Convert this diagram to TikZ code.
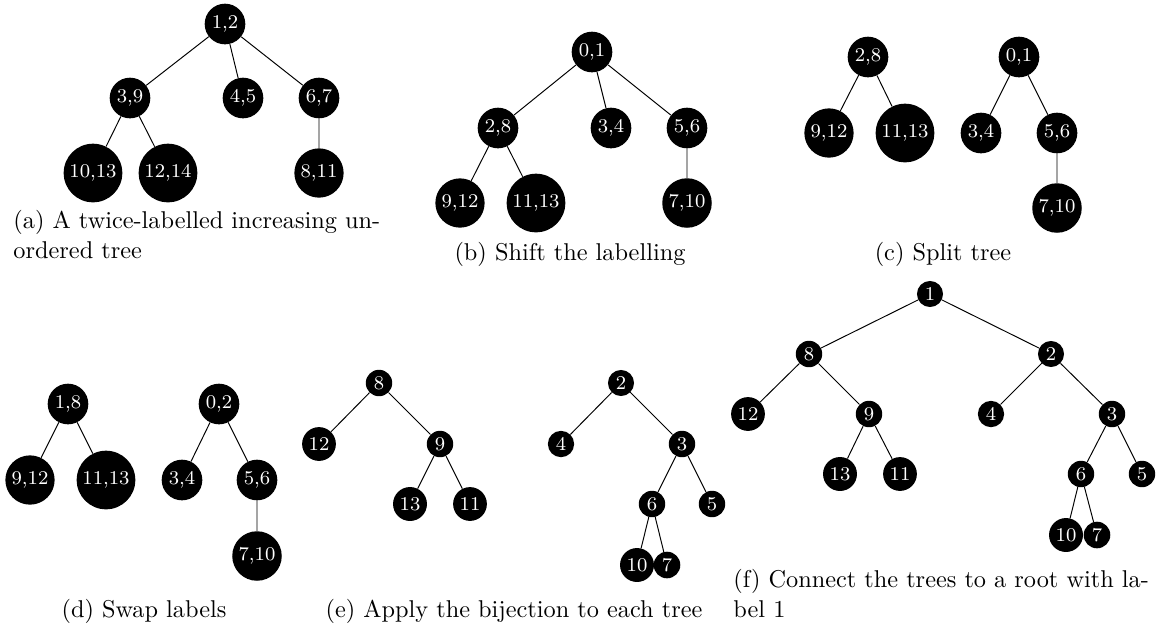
\documentclass[tikz,border=0pt]{standalone}
\begin{document}
\begin{tikzpicture}[x=0.4115pt, y=-0.4115pt, vertex/.style={circle, fill=black, text=white, inner sep=1.4pt, font=\footnotesize}, caption/.style={inner sep=0pt, align=left}, line join=round, line cap=round]
      \useasboundingbox (0,0) rectangle (1156,626);

      % (a)
      \node[vertex] (a1) at (225,24) {1,2};
      \node[vertex] (a2) at (130,98) {3,9};
      \node[vertex] (a3) at (243,98) {4,5};
      \node[vertex] (a4) at (319,98) {6,7};
      \node[vertex] (a5) at (93,173) {10,13};
      \node[vertex] (a6) at (168,173) {12,14};
      \node[vertex] (a7) at (319,173) {8,11};
      \draw (a1) -- (a2) (a1) -- (a3) (a1) -- (a4);
      \draw (a2) -- (a5) (a2) -- (a6) (a4) -- (a7);
      \node[caption, anchor=base west] (capa) at (13,258) {(a) A twice-labelled increasing un-\\ordered tree};

      % (b)
      \node[vertex] (b1) at (592,52) {0,1};
      \node[vertex] (b2) at (498,128) {2,8};
      \node[vertex] (b3) at (611,128) {3,4};
      \node[vertex] (b4) at (687,128) {5,6};
      \node[vertex] (b5) at (460,203) {9,12};
      \node[vertex] (b6) at (536,203) {11,13};
      \node[vertex] (b7) at (687,203) {7,10};
      \draw (b1) -- (b2) (b1) -- (b3) (b1) -- (b4);
      \draw (b2) -- (b5) (b2) -- (b6) (b4) -- (b7);
      \node[caption, anchor=base] (capb) at (570,260) {(b) Shift the labelling};

      % (c)
      \node[vertex] (c1) at (868,57) {2,8};
      \node[vertex] (c2) at (829,133) {9,12};
      \node[vertex] (c3) at (905,133) {11,13};
      \node[vertex] (c4) at (1019,57) {0,1};
      \node[vertex] (c5) at (981,133) {3,4};
      \node[vertex] (c6) at (1057,133) {5,6};
      \node[vertex] (c7) at (1057,208) {7,10};
      \draw (c1) -- (c2) (c1) -- (c3);
      \draw (c4) -- (c5) (c4) -- (c6) (c6) -- (c7);
      \node[caption, anchor=base] (capc) at (943,260) {(c) Split tree};

      % (d)
      \node[vertex] (d1) at (68,404) {1,8};
      \node[vertex] (d2) at (30,480) {9,12};
      \node[vertex] (d3) at (106,480) {11,13};
      \node[vertex] (d4) at (219,404) {0,2};
      \node[vertex] (d5) at (182,480) {3,4};
      \node[vertex] (d6) at (257,480) {5,6};
      \node[vertex] (d7) at (257,556) {7,10};
      \draw (d1) -- (d2) (d1) -- (d3);
      \draw (d4) -- (d5) (d4) -- (d6) (d6) -- (d7);
      \node[caption, anchor=base] (capd) at (144,617) {(d) Swap labels};

      % (e)
      \node[vertex] (e1) at (379,383) {8};
      \node[vertex] (e2) at (319,444) {12};
      \node[vertex] (e3) at (440,444) {9};
      \node[vertex] (e4) at (410,504) {13};
      \node[vertex] (e5) at (470,504) {11};
      \node[vertex] (e6) at (621,383) {2};
      \node[vertex] (e7) at (561,444) {4};
      \node[vertex] (e8) at (682,444) {3};
      \node[vertex] (e9) at (652,504) {6};
      \node[vertex] (e10) at (712,504) {5};
      \node[vertex] (e11) at (637,565) {10};
      \node[vertex] (e12) at (667,565) {7};
      \draw (e1) -- (e2) (e1) -- (e3) (e3) -- (e4) (e3) -- (e5);
      \draw (e6) -- (e7) (e6) -- (e8) (e8) -- (e9) (e8) -- (e10);
      \draw (e9) -- (e11) (e9) -- (e12);
      \node[caption, anchor=base] (cape) at (514,617) {(e) Apply the bijection to each tree};

      % (f)
      \node[vertex] (f1) at (930,294) {1};
      \node[vertex] (f2) at (809,354) {8};
      \node[vertex] (f3) at (748,414) {12};
      \node[vertex] (f4) at (869,414) {9};
      \node[vertex] (f5) at (840,474) {13};
      \node[vertex] (f6) at (900,474) {11};
      \node[vertex] (f7) at (1051,354) {2};
      \node[vertex] (f8) at (991,414) {4};
      \node[vertex] (f9) at (1112,414) {3};
      \node[vertex] (f10) at (1081,474) {6};
      \node[vertex] (f11) at (1142,474) {5};
      \node[vertex] (f12) at (1066,535) {10};
      \node[vertex] (f13) at (1097,535) {7};
      \draw (f1) -- (f2) (f1) -- (f7);
      \draw (f2) -- (f3) (f2) -- (f4) (f4) -- (f5) (f4) -- (f6);
      \draw (f7) -- (f8) (f7) -- (f9) (f9) -- (f10) (f9) -- (f11);
      \draw (f10) -- (f12) (f10) -- (f13);
      \node[caption, anchor=base west] (capf) at (733,617) {(f) Connect the trees to a root with la-\\bel 1};
    \end{tikzpicture}
\end{document}
